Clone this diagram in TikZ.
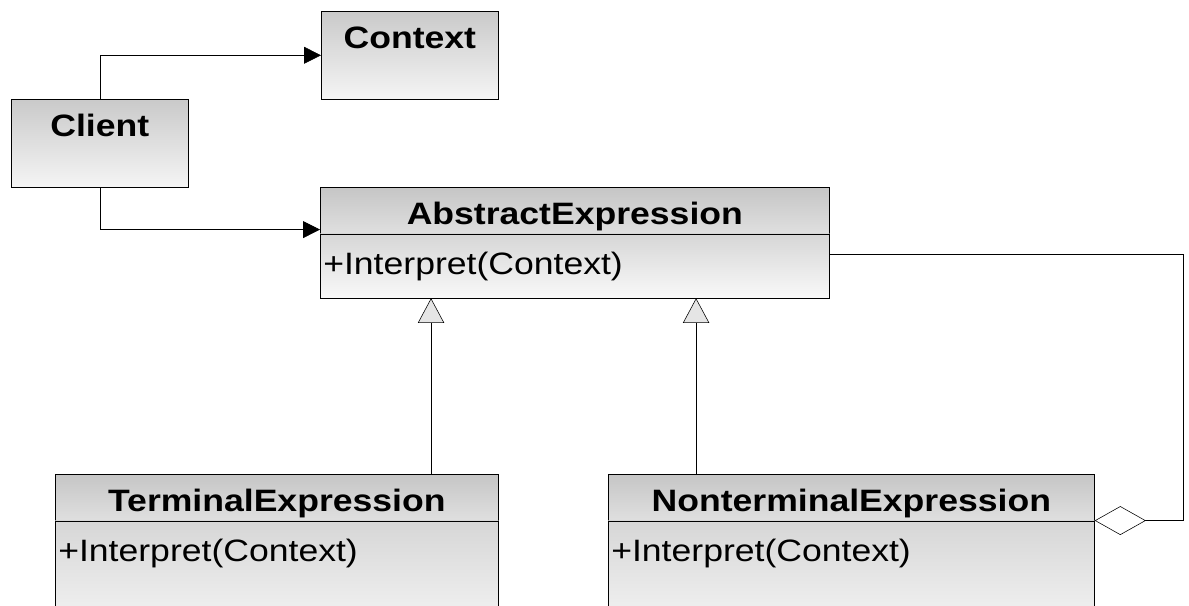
\documentclass[tikz,border=0pt]{standalone}
\usepackage{fontspec}
\setmainfont{Liberation Sans}[FakeStretch=1.15]
\usetikzlibrary{positioning, arrows.meta}
\tikzset{x=0.025cm, y=-0.025cm, % one unit is one pixel of the reference
line width=1.6pt, % lines of all boxes and connectors
classbox/.style={draw, top color=gray!42, bottom color=gray!8, inner sep=0pt, minimum width=4.425cm, text height=0.925cm, text depth=1.275cm, font=\fontsize{22}{26}\selectfont\bfseries}, % box with a name only
headbox/.style={draw, top color=gray!45, bottom color=gray!25, inner sep=0pt, text height=0.925cm, text depth=0.225cm, font=\fontsize{22}{26}\selectfont\bfseries}, % name part of a class
bodybox/.style={draw, top color=gray!32, bottom color=gray!5, inner sep=0pt, inner xsep=0.075cm, align=left, text height=1.025cm, font=\fontsize{22}{26}\selectfont}, % operation part of a class
assoc/.style={-{Triangle[length=0.42cm,width=0.42cm]}}, % plain association
inherit/.style={-{Triangle[length=0.62cm,width=0.66cm,fill=gray!20]}}, % generalisation
aggr/.style={{Diamond[length=1.28cm,width=0.72cm,fill=white]}-}, % aggregation
}
\begin{document}
\begin{tikzpicture}
\useasboundingbox (0,0) rectangle (1189,605);
\clip (0,0) rectangle (1189,605);

\node[classbox, anchor=north west] (context) at (321,11) {Context};
\node[classbox, anchor=north west] (client) at (11,99) {Client};

\node[headbox, minimum width=12.725cm, anchor=north west] (abshead) at (320,187) {AbstractExpression};
\node[bodybox, text width=12.575cm, text depth=0.575cm, below=0pt of abshead] (absbody) {+Interpret(Context)};

\node[headbox, minimum width=11.075cm, anchor=north west] (termhead) at (55,474) {TerminalExpression};
\node[bodybox, text width=10.925cm, text depth=2.1cm, below=0pt of termhead] (termbody) {+Interpret(Context)};

\node[headbox, minimum width=12.15cm, anchor=north west] (ntermhead) at (608,474) {NonterminalExpression};
\node[bodybox, text width=12cm, text depth=2.1cm, below=0pt of ntermhead] (ntermbody) {+Interpret(Context)};

\coordinate (gen1) at ([xshift=2.775cm]absbody.south west);
\coordinate (gen2) at ([xshift=9.4cm]absbody.south west);

\draw[assoc] (client.north) |- (context.west);
\draw[assoc] (client.south) |- ([yshift=0.1cm]abshead.south west);
\draw[inherit] (termhead.north -| gen1) -- (gen1);
\draw[inherit] (ntermhead.north -| gen2) -- (gen2);
\draw[aggr] (ntermhead.south east) -- ++(89,0) |- ([yshift=-0.525cm]absbody.north east);

\end{tikzpicture}
\end{document}
